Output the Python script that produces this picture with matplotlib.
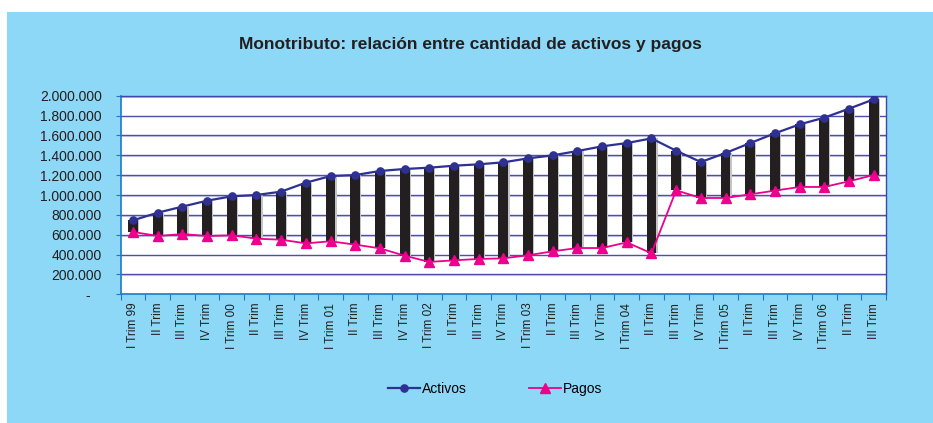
import matplotlib
matplotlib.use("Agg")
import matplotlib.pyplot as plt
from matplotlib.patches import Rectangle
from matplotlib.ticker import FixedLocator, FuncFormatter
import numpy as np

plt.rcParams['font.family'] = ['Liberation Sans', 'DejaVu Sans']

categories = ["I Trim 99", "II Trim", "III Trim", "IV Trim",
              "I Trim 00", "II Trim", "III Trim", "IV Trim",
              "I Trim 01", "II Trim", "III Trim", "IV Trim",
              "I Trim 02", "II Trim", "III Trim", "IV Trim",
              "I Trim 03", "II Trim", "III Trim", "IV Trim",
              "I Trim 04", "II Trim", "III Trim", "IV Trim",
              "I Trim 05", "II Trim", "III Trim", "IV Trim",
              "I Trim 06", "II Trim", "III Trim"]

activos = [745000, 822000, 883000, 943000, 987000, 1000000, 1034000, 1124000,
           1191000, 1201000, 1242000, 1262000, 1275000, 1295000, 1309000, 1329000,
           1369000, 1399000, 1443000, 1490000, 1523000, 1570000, 1446000, 1332000,
           1423000, 1523000, 1621000, 1711000, 1779000, 1869000, 1963000]

pagos = [628000, 587000, 607000, 587000, 594000, 560000, 550000, 513000,
         534000, 500000, 463000, 389000, 326000, 342000, 356000, 362000,
         393000, 433000, 466000, 466000, 523000, 413000, 1047000, 970000,
         970000, 1007000, 1044000, 1081000, 1081000, 1138000, 1201000]

title = "Monotributo: relación entre cantidad de activos y pagos"

W, H = 933, 423
fig = plt.figure(figsize=(W / 100, H / 100), dpi=100)
fig.patch.set_facecolor('white')
bg = Rectangle((7 / W, 0), 1 - 7 / W, (H - 12) / H,
               transform=fig.transFigure, facecolor='#8dd8f6',
               edgecolor='none', zorder=-10)
fig.add_artist(bg)

left, right, top, bottom = 120.7, 886, 95.7, 294.3
ax = fig.add_axes([left / W, 1 - bottom / H, (right - left) / W, (bottom - top) / H])
ax.set_zorder(5)
ax.set_facecolor('white')

x = np.arange(len(categories))
act = np.array(activos)
pag = np.array(pagos)

# gridlines
for v in range(200000, 2000001, 200000):
    ax.axhline(v, color='#4d4faa', lw=1.0, zorder=1)
    ax.axhline(v - 9000, color='#d4d4ec', lw=0.8, zorder=0.9)

# high-low bars with thin shadow
ax.bar(x + 0.05, act - pag, bottom=pag, width=0.4, color='#c4c4c4', zorder=2)
ax.bar(x, act - pag, bottom=pag, width=0.4, color='#231f20', zorder=3)

ax.plot(x, act, color='#2e3192', lw=1.6, marker='o', markersize=5.2,
        markerfacecolor='#2e3192', markeredgecolor='#2e3192', zorder=5, label='Activos')
ax.plot(x, pag, color='#ec008c', lw=1.3, marker='^', markersize=7.5,
        markerfacecolor='#ec008c', markeredgecolor='#ec008c', zorder=4, label='Pagos')

ax.set_xlim(-0.5, len(categories) - 0.5)
ax.set_ylim(0, 2000000)

ax.set_yticks(np.arange(0, 2000001, 200000))
def fmt(v, pos):
    if v == 0:
        return "-   "
    return f"{int(v):,}".replace(",", ".")
ax.yaxis.set_major_formatter(FuncFormatter(fmt))
ax.tick_params(axis='y', length=3.5, width=0.8, color='#1f78c8', pad=10,
               labelsize=10, labelcolor='#231f20')

ax.set_xticks(x)
ax.set_xticklabels(categories, rotation=90, fontsize=8.5, color='#231f20')
ax.xaxis.set_minor_locator(FixedLocator(np.arange(-0.5, len(categories), 1)))
ax.tick_params(axis='x', which='major', length=0, pad=6)
ax.tick_params(axis='x', which='minor', length=4, width=0.8, color='#1f78c8')

for s in ['left', 'bottom']:
    ax.spines[s].set_color('#1f78c8')
    ax.spines[s].set_linewidth(1.2)
for s in ['top', 'right']:
    ax.spines[s].set_color('#3f48a8')
    ax.spines[s].set_linewidth(1.0)

fig.text(470 / W, 1 - 45 / H, title, ha='center', va='center',
         fontsize=12.5, fontweight='bold', color='#231f20')

fig.legend(loc='center', bbox_to_anchor=(495 / W, 1 - 389 / H), ncol=2,
           frameon=False, fontsize=10, handlelength=2.3, handletextpad=0.15,
           columnspacing=4.5)

fig.savefig('out.png', dpi=100, facecolor=fig.get_facecolor())
